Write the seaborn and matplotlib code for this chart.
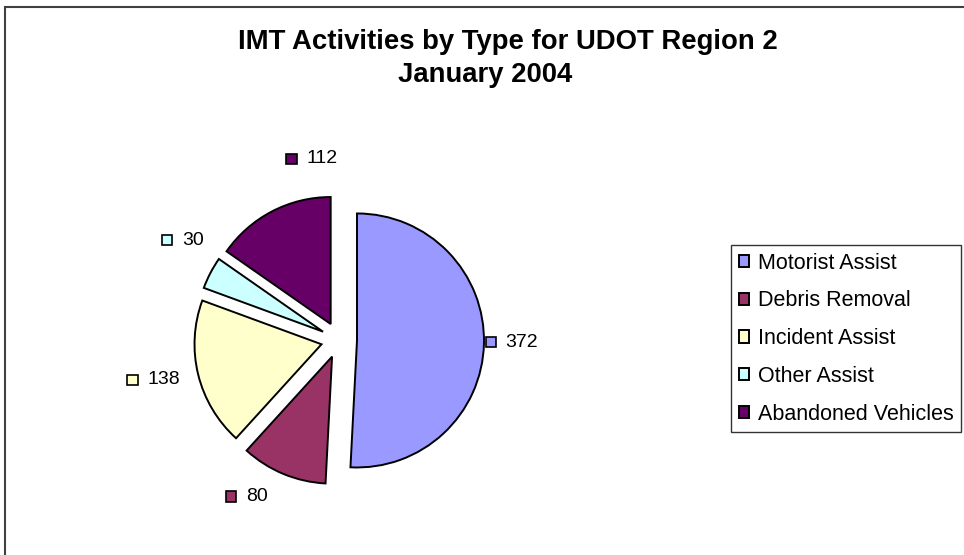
import numpy as np
import matplotlib
matplotlib.use("Agg")
import matplotlib.pyplot as plt
from matplotlib.patches import Rectangle
from matplotlib.offsetbox import DrawingArea, TextArea, HPacker, AnnotationBbox
import seaborn as sns

# data
categories = ["Motorist Assist", "Debris Removal", "Incident Assist", "Other Assist", "Abandoned Vehicles"]
counts = [372, 80, 138, 30, 112]
colors = ["#9999FF", "#993366", "#FFFFCC", "#CCFFFF", "#660066"]

title_line1 = "IMT Activities by Type for UDOT Region 2"
title_line2 = "January 2004"

# label placement tweaks (deg clockwise, multiple of radius) to mimic the excel layout
label_turn = [-0.8, 8.7, 1.8, 5.6, 21.0]
label_dist = [1.22, 1.29, 1.35, 1.32, 1.31]

sns.set_theme(style="white")
plt.rcParams["font.family"] = ["Liberation Sans", "DejaVu Sans"]
plt.rcParams["text.color"] = "black"

W, H = 964, 555
fig = plt.figure(figsize=(W / 100, H / 100), dpi=100)
ax = fig.add_axes([0, 0, 1, 1])

# work in pixel units so the pie sits where it does in the original
cx, cy, r, gap = 339, H - 340, 127, 18
wedges, _ = ax.pie(counts, colors=colors, startangle=90, counterclock=False,
                   radius=r, center=(cx, cy), explode=[gap] * len(counts),
                   wedgeprops=dict(edgecolor="black", linewidth=1.4), frame=True)
ax.set_xlim(0, W)
ax.set_ylim(0, H)
ax.set_aspect("equal")
ax.axis("off")

# value labels with a little colour key in front, excel style
for w, n, col, turn, dist in zip(wedges, counts, colors, label_turn, label_dist):
    mid = np.deg2rad(0.5 * (w.theta1 + w.theta2) - turn)
    ex, ey = w.center
    px = ex + dist * r * np.cos(mid)
    py = ey + dist * r * np.sin(mid)
    da = DrawingArea(7.5, 7.5)
    da.add_artist(Rectangle((0, 0), 7.5, 7.5, fc=col, ec="black", lw=1.2))
    ta = TextArea(str(n), textprops=dict(size=14, color="black"))
    box = HPacker(children=[da, ta], align="center", pad=0, sep=7)
    ax.add_artist(AnnotationBbox(box, (px, py), frameon=False, box_alignment=(0.5, 0.5)))

# outer chart border (only top and left visible in the crop)
ax.add_patch(Rectangle((5, -20), W + 50, H - 7 + 20, fill=False, ec="#404040", lw=1.5, clip_on=False))

fig.text(508 / W, 1 - 42 / H, title_line1, ha="center", va="center", size=19.8, weight="bold", color="black")
fig.text(485 / W, 1 - 75 / H, title_line2, ha="center", va="center", size=19.8, weight="bold", color="black")

leg = fig.legend(wedges, categories, loc="upper left", bbox_to_anchor=(731 / W, 1 - 245 / H),
                 fontsize=15.5, frameon=True, fancybox=False, edgecolor="black",
                 handlelength=0.5, handleheight=0.5, handletextpad=0.4,
                 labelspacing=0.78, borderpad=0.35, borderaxespad=0)
leg.get_frame().set_linewidth(1.0)
for t in leg.get_texts():
    t.set_color("black")

fig.savefig("out.png", dpi=100)
